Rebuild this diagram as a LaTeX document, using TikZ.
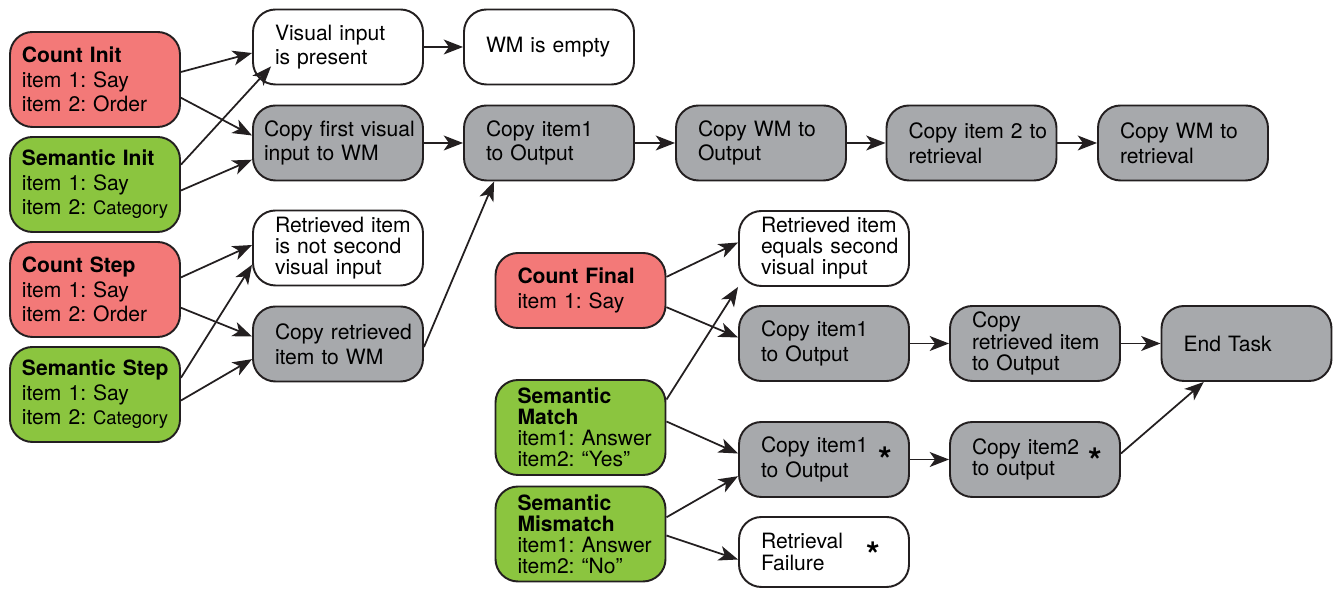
\documentclass[tikz,border=0pt]{standalone}
\usepackage{fontspec}
\setmainfont{TeX Gyre Heros}
\usetikzlibrary{arrows.meta}
\frenchspacing

\begin{document}
\begin{tikzpicture}[
    box/.style={shape=rectangle,rounded corners=0.45cm,draw=edgecol,line width=1.1pt,
      minimum width=3.4cm,minimum height=1.5cm,inner xsep=0.1cm,inner ysep=0.1cm,
      text width=3.2cm,align=left,font=\fontsize{12}{14}\selectfont,inset=0.34cm},
    inset/.style={execute at begin node={\leftskip=#1}},
    tight/.style={font=\fontsize{12}{12}\selectfont},
    countbox/.style={box,fill=countred,minimum height=1.9cm},
    sembox/.style={box,fill=semgreen,minimum height=1.9cm},
    condbox/.style={box,fill=white},
    actbox/.style={box,fill=stepgrey},
    ast/.style={font=\fontsize{20}{20}\selectfont\bfseries,inner sep=0pt},
    arr/.style={-{Stealth[length=11pt,width=8.5pt,inset=3pt]},line width=1pt,draw=edgecol}]
    \definecolor{countred}{RGB}{243,121,120}
    \definecolor{semgreen}{RGB}{139,197,63}
    \definecolor{stepgrey}{RGB}{167,169,172}
    \definecolor{edgecol}{RGB}{35,31,32}
    \useasboundingbox (0,0) rectangle (26.72,11.78);
    % task boxes on the left
    \node[countbox,inset=0.14cm] (cinit) at (1.9,10.19) {\textbf{Count Init}\\item 1: Say\\item 2: Order};
    \node[sembox,inset=0.14cm]   (sinit) at (1.9,8.09)  {\textbf{Semantic Init}\\item 1: Say\\item 2: {\fontsize{10.5}{14}\selectfont Category}};
    \node[countbox,inset=0.14cm] (cstep) at (1.9,5.99)  {\textbf{Count Step}\\item 1: Say\\item 2: Order};
    \node[sembox,inset=0.14cm]   (sstep) at (1.9,3.89)  {\textbf{Semantic Step}\\item 1: Say\\item 2: {\fontsize{10.5}{14}\selectfont Category}};
    % conditions and first steps
    \node[condbox]              (vis)     at (6.76,10.84) {Visual input\\is present};
    \node[actbox,inset=0.12cm]  (cpfirst) at (6.76,8.92)  {Copy first visual\\input to WM};
    \node[condbox,tight]        (notsec)  at (6.76,6.82)  {Retrieved item\\is not second\\visual input};
    \node[actbox]               (cpret)   at (6.76,4.90)  {Copy retrieved\\item to WM};
    \node[condbox]              (empty)   at (10.98,10.84) {WM is empty};
    % top row of steps
    \node[actbox] (cpa)     at (10.98,8.92) {Copy item1\\to Output};
    \node[actbox] (cpwmout) at (15.22,8.92) {Copy WM to\\Output};
    \node[actbox] (cpb)     at (19.43,8.92) {Copy item 2 to\\retrieval};
    \node[actbox] (cpwmret) at (23.66,8.92) {Copy WM to\\retrieval};
    % final part
    \node[countbox,minimum height=1.5cm] (cfinal) at (11.61,5.97) {\textbf{Count Final}\\item 1: Say};
    \node[sembox,tight] (smatch) at (11.61,3.23) {\textbf{Semantic}\\\textbf{Match}\\item1: Answer\\item2: “Yes”};
    \node[sembox,tight] (smis)   at (11.61,1.10) {\textbf{Semantic}\\\textbf{Mismatch}\\item1: Answer\\item2: “No”};
    \node[condbox,tight] (eqsec)    at (16.48,6.81) {Retrieved item\\equals second\\visual input};
    \node[actbox]        (cpc)      at (16.48,4.91) {Copy item1\\to Output};
    \node[actbox,tight]  (cpretout) at (20.70,4.91) {Copy\\retrieved item\\to Output};
    \node[actbox]        (endtask)  at (24.93,4.91) {End Task};
    \node[actbox]        (cpd)      at (16.48,2.59) {Copy item1\\to Output};
    \node[actbox,tight]  (cpe)      at (20.70,2.59) {Copy item2\\to output};
    \node[condbox,tight,minimum height=1.4cm] (fail) at (16.48,0.74) {Retrieval\\Failure};
    \node[ast] (asta) at ([shift={(1.22,0)}]cpd.center) {*};
    \node[ast] (astb) at ([shift={(1.2,-0.02)}]cpe.center) {*};
    \node[ast] (astc) at ([shift={(0.98,-0.05)}]fail.center) {*};
    % connectors
    \draw[arr] (cinit.5) -- (vis.184);
    \draw[arr] (cinit.-12) -- (cpfirst.175);
    \draw[arr] (sinit.13) -- ([shift={(0.38,0.38)}]vis.south west);
    \draw[arr] (sinit.-4) -- (cpfirst.191);
    \draw[arr] (cstep.8) -- (notsec.178);
    \draw[arr] (cstep.-12) -- (cpret.175);
    \draw[arr] (sstep.11) -- (notsec.191);
    \draw[arr] (sstep.-4) -- (cpret.190);
    \draw[arr] (cpret.-2) -- (cpa.215);
    \draw[arr] (vis) -- (empty);
    \draw[arr] (cpfirst) -- (cpa);
    \draw[arr] (cpa) -- (cpwmout);
    \draw[arr] (cpwmout) -- (cpb);
    \draw[arr] (cpb) -- (cpwmret);
    \draw[arr] (cfinal.9) -- (eqsec.176);
    \draw[arr] (cfinal.-11) -- (cpc.176);
    \draw[arr] (smatch.18) -- (eqsec.south west);
    \draw[arr] (smatch.4) -- (cpd.176);
    \draw[arr] (smis.11) -- (cpd.191);
    \draw[arr] (smis.-1) -- (fail.185);
    \draw[arr] (cpc) -- (cpretout);
    \draw[arr] (cpretout) -- (endtask);
    \draw[arr] (cpd) -- (cpe);
    \draw[arr] (cpe.4) -- (endtask.222);
\end{tikzpicture}
\end{document}
